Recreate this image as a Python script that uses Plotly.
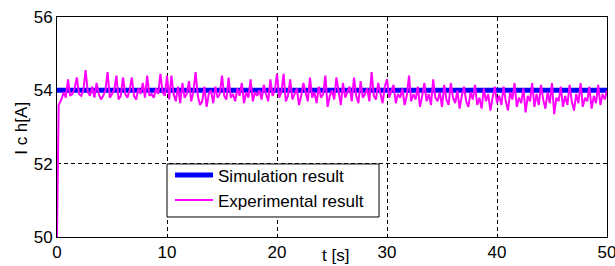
import plotly.graph_objects as go

# Simulation result (constant reference)
t_sim = [0.0, 50.0]
i_sim = [54.0, 54.0]

step = 0.2
i_exp = [
    50.0,
    # 0-10 s
    53.6, 53.75, 53.95, 53.8, 54.3, 53.85, 53.9, 54.05, 54.35, 53.9,
    53.85, 54.0, 54.55, 53.95, 53.85, 54.1, 53.8, 54.2, 53.9, 53.75,
    53.85, 54.0, 54.5, 53.8, 53.9, 54.0, 54.4, 53.75, 53.85, 54.35,
    53.9, 53.8, 54.0, 54.35, 53.85, 53.75, 54.05, 53.9, 54.2, 53.8,
    54.4, 53.85, 53.9, 53.8, 54.05, 53.9, 54.45, 53.95, 53.85, 54.4,
    # 10-20 s
    53.75, 54.4, 53.9, 53.7, 54.1, 53.65, 54.2, 53.8, 53.9, 54.25,
    53.7, 53.95, 54.5, 53.85, 53.6, 53.7, 54.1, 53.55, 53.9, 54.0,
    53.65, 54.1, 53.8, 53.9, 54.4, 53.85, 53.75, 54.35, 53.8, 53.9,
    53.7, 54.05, 53.85, 54.2, 53.65, 53.95, 53.8, 54.3, 53.7, 53.95,
    53.85, 54.0, 53.75, 54.15, 53.9, 53.7, 54.3, 53.85, 54.0, 54.45,
    # 20-30 s
    53.8, 53.95, 54.45, 53.7, 53.85, 54.3, 53.75, 53.9, 54.05, 53.6,
    53.85, 54.2, 53.9, 53.7, 54.35, 53.8, 53.95, 53.65, 54.1, 53.8,
    53.9, 54.4, 53.55, 53.85, 54.0, 53.75, 54.35, 53.9, 53.6, 54.2,
    53.8, 53.95, 54.1, 53.7, 54.35, 53.85, 53.65, 54.25, 53.8, 53.9,
    54.05, 53.7, 54.5, 53.85, 53.75, 54.2, 53.9, 53.65, 54.1, 54.3,
    # 30-40 s
    53.8, 53.95, 54.15, 53.65, 53.9, 53.8, 54.05, 53.6, 53.85, 54.4,
    53.7, 53.9, 53.75, 54.1, 53.55, 53.85, 54.2, 53.7, 53.9, 53.6,
    54.3, 53.8, 53.7, 53.95, 53.55, 54.15, 53.75, 53.6, 54.2, 53.8,
    53.65, 54.0, 53.5, 53.85, 54.1, 53.7, 53.55, 53.95, 53.75, 54.15,
    53.6, 53.8, 53.5, 54.05, 53.7, 53.9, 53.45, 53.8, 54.1, 53.65,
    # 40-50 s
    53.85, 53.6, 54.1, 53.7, 53.45, 53.95, 53.75, 54.2, 53.55, 53.8,
    53.65, 54.05, 53.4, 53.85, 53.7, 54.2, 53.55, 53.9, 53.6, 54.15,
    53.75, 53.5, 53.95, 53.65, 54.2, 53.35, 53.8, 53.7, 54.1, 53.55,
    53.85, 53.6, 54.15, 53.7, 53.45, 53.9, 53.65, 54.2, 53.55, 53.8,
    53.7, 54.1, 53.5, 53.85, 53.65, 54.15, 53.6, 53.9, 53.75, 54.0,
]
t_exp = [round(k * step, 3) for k in range(len(i_exp))]
t_exp[1] = 0.15  # sharp rise just after start

x_ticks = [0, 10, 20, 30, 40, 50]
y_ticks = [50, 52, 54, 56]

FONT = "Liberation Sans, Arial, sans-serif"
FS = 17

fig = go.Figure()
fig.add_trace(go.Scatter(x=t_sim, y=i_sim, mode="lines", name="Simulation result",
                         line=dict(color="#0000ff", width=5)))
fig.add_trace(go.Scatter(x=t_exp, y=i_exp, mode="lines", name="Experimental result",
                         line=dict(color="#ff00ff", width=2)))

axis_common = dict(showline=True, linecolor="black", linewidth=1, mirror=True,
                   showgrid=True, gridcolor="black", gridwidth=1, griddash="4px,3px",
                   zeroline=False, ticks="", automargin=False,
                   ticklabeloverflow="allow",
                   tickfont=dict(family=FONT, size=FS, color="black"))

fig.update_xaxes(range=[0, 50], tickvals=x_ticks, **axis_common)
fig.update_yaxes(range=[50, 56], tickvals=y_ticks, **axis_common)

fig.update_layout(
    width=615, height=266,
    margin=dict(l=57, r=8, t=17, b=29, autoexpand=False),
    paper_bgcolor="white", plot_bgcolor="white",
    font=dict(family=FONT, size=FS, color="black"),
    showlegend=True,
    legend=dict(x=0.2055, y=0.362, xanchor="left", yanchor="top",
                bgcolor="rgba(0,0,0,0)", borderwidth=0,
                font=dict(family=FONT, size=FS, color="black"),
                itemwidth=38, tracegroupgap=0),
    shapes=[
        dict(type="rect", xref="paper", yref="paper",
             x0=0.2, x1=0.5855, y0=0.091, y1=0.332,
             fillcolor="white", line=dict(color="black", width=1), layer="above"),
    ],
    annotations=[
        dict(text="t [s]", x=0.507, y=-0.082, xref="paper", yref="paper",
             showarrow=False, xanchor="center", yanchor="middle",
             font=dict(family=FONT, size=FS, color="black")),
        dict(text="I c h[A]", x=-0.066, y=0.495, xref="paper", yref="paper",
             showarrow=False, textangle=-90, xanchor="center", yanchor="middle",
             font=dict(family=FONT, size=FS, color="black")),
    ],
)

fig.write_html("out.html", config={"displayModeBar": False},
               post_script="document.body.style.margin='0';document.body.style.overflow='hidden';")
